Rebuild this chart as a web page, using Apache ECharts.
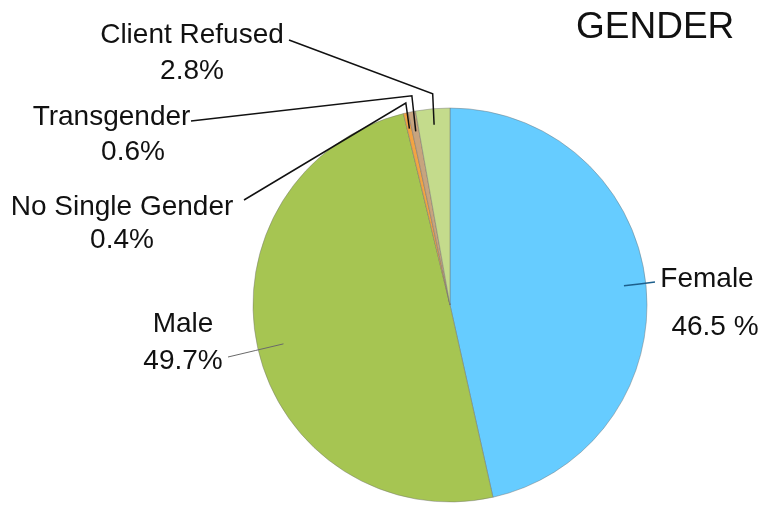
<!DOCTYPE html>
<html>
<head>
<meta charset="utf-8">
<script src="https://cdn.jsdelivr.net/npm/echarts@6/dist/echarts.min.js"></script>
<style>
html,body{margin:0;padding:0;background:#fff;}
#c{width:763px;height:510px;}
</style>
</head>
<body>
<div id="c"></div>
<script>
// ---- data ----
const categories = ['Female', 'Male', 'No Single Gender', 'Transgender', 'Client Refused'];
const values = [46.5, 49.7, 0.4, 0.6, 2.8];
const pctLabels = ['46.5 %', '49.7%', '0.4%', '0.6%', '2.8%'];
const titleText = 'GENDER';

// ---- styles / layout ----
const colors = ['#66ccff', '#a6c552', '#f2a443', '#c7a47e', '#c4db8c'];
const CX = 450, CY = 305, R = 197;
// label block centre (x, y), line height, left padding of 2nd line
const labelPos = [
  {x: 707, y: 303.5, lh: 48, pad: 16, end: [655, 282], line: '#1d5f8c', lw: 1.5, inset: 22, elbow: 0},
  {x: 183, y: 342.5, lh: 37, pad: 0, end: [228, 357], line: '#6a6a6a', lw: 1, inset: 26, elbow: 0},
  {x: 122, y: 224, lh: 33, pad: 0, end: [244, 200], line: '#111', lw: 1.5, inset: 16, elbow: 10},
  {x: 111.5, y: 135, lh: 34.5, pad: 43, end: [191, 121], line: '#111', lw: 1.5, inset: 20, elbow: 16},
  {x: 192, y: 53.3, lh: 35.5, pad: 0, end: [289, 40], line: '#111', lw: 1.5, inset: 16, elbow: 15}
];

const fontFamily = '"Liberation Sans", Arial, sans-serif';

const sliceData = categories.map((name, i) => ({
  name: name,
  value: values[i],
  itemStyle: {color: colors[i]}
}));

const labelData = categories.map((name, i) => {
  const p = labelPos[i];
  return {
    name: name,
    value: values[i],
    label: {
      formatter: '{n|' + name + '}\n{p|' + pctLabels[i] + '}',
      rich: {
        n: {fontSize: 28, lineHeight: p.lh, fontFamily: fontFamily, color: '#111', align: 'center'},
        p: {fontSize: 28, lineHeight: p.lh, fontFamily: fontFamily, color: '#111', align: 'center', padding: [0, 0, 0, p.pad]}
      }
    },
    labelLine: {lineStyle: {color: p.line, width: p.lw}}
  };
});

const chart = echarts.init(document.getElementById('c'), null, {renderer: 'canvas'});
chart.setOption({
  backgroundColor: '#ffffff',
  animation: false,
  title: {
    text: titleText,
    left: 571,
    top: 4,
    textStyle: {fontSize: 37, fontWeight: 'normal', color: '#111', fontFamily: fontFamily}
  },
  series: [{
    type: 'pie',
    z: 2,
    center: [CX, CY],
    radius: R,
    startAngle: 90,
    clockwise: true,
    silent: true,
    data: sliceData,
    itemStyle: {borderColor: 'rgba(110,110,110,0.55)', borderWidth: 0.8},
    label: {show: false},
    labelLine: {show: false},
    emphasis: {disabled: true}
  }, {
    type: 'pie',
    z: 5,
    center: [CX, CY],
    radius: R,
    startAngle: 90,
    clockwise: true,
    silent: true,
    avoidLabelOverlap: false,
    data: labelData,
    itemStyle: {color: 'rgba(0,0,0,0)', borderWidth: 0},
    label: {show: true, position: 'outside'},
    labelLine: {show: true, showAbove: true, length: 10, length2: 10, smooth: false},
    emphasis: {disabled: true},
    labelLayout: function (params) {
      const i = params.dataIndex;
      const p = labelPos[i];
      const p0 = params.labelLinePoints ? params.labelLinePoints[0] : [CX, CY - R];
      const dx = p0[0] - CX, dy = p0[1] - CY;
      const len = Math.sqrt(dx * dx + dy * dy) || 1;
      const ux = dx / len, uy = dy / len;
      const inner = [CX + ux * (len - p.inset), CY + uy * (len - p.inset)];
      let pts;
      if (p.elbow > 0) {
        const el = [p0[0], p0[1] - p.elbow];
        pts = [inner, el, p.end];
      } else {
        pts = [inner, [(inner[0] + p.end[0]) / 2, (inner[1] + p.end[1]) / 2], p.end];
      }
      return {
        x: p.x,
        y: p.y,
        align: 'center',
        verticalAlign: 'middle',
        labelLinePoints: pts
      };
    }
  }]
});
</script>
</body>
</html>
